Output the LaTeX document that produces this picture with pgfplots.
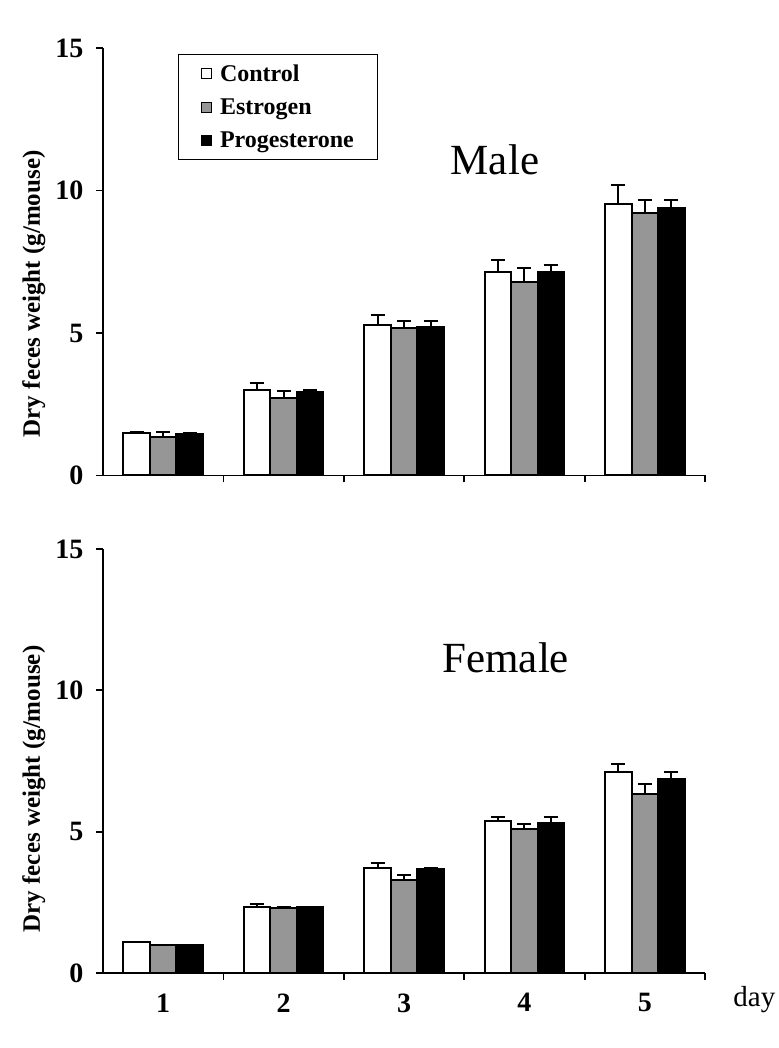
\documentclass[border=0pt]{standalone}
\usepackage{fontspec}
\setmainfont{Liberation Serif}
\usepackage{pgfplots}
\pgfplotsset{compat=1.18}
\definecolor{estro}{RGB}{150,150,150}
\pgfplotsset{
  common/.style={
    scale only axis, width=602pt,
    xmin=0.5, xmax=5.5, ymin=0, ymax=15,
    ybar=0pt, bar width=26.5pt,
    axis lines*=left, clip=false,
    axis line style={line width=1.8pt, black},
    ytick={0,5,10,15},
    xtick={1,2,3,4,5},
    minor xtick={1.5,2.5,3.5,4.5,5.5},
    major tick length=7pt, minor tick length=7pt,
    major x tick style={draw=none},
    minor x tick style={line width=1.8pt, black},
    major y tick style={line width=1.8pt, black, xshift=-7pt},
    /pgf/number format/assume math mode=true,
    tick label style={font=\bfseries\fontsize{28}{32}\selectfont},
    yticklabel style={xshift=-16pt},
    xticklabel style={yshift=-10pt},
  },
  mylegimg/.style={legend image code/.code={\draw[##1, line width=1.2pt] (0pt,-5pt) rectangle (10pt,5pt);}},
  errs/.style={error bars/.cd, y dir=plus, y explicit,
    error bar style={line width=2pt, black, solid},
    error mark options={rotate=90, line width=2pt, black, mark size=7pt}},
}
\begin{document}
\begin{tikzpicture}
\useasboundingbox (0,0) rectangle (778pt,1048pt);
% Male
\begin{axis}[common, at={(103pt,572.5pt)}, anchor=south west, height=427.5pt,
  xticklabels={},
  legend style={at={(0.125,0.986)}, anchor=north west, draw=black, line width=1.2pt,
    font=\bfseries\fontsize{24}{28}\selectfont, row sep=12pt, column sep=6pt,
    inner xsep=22pt, inner ysep=8pt, cells={anchor=west}},
]
\addplot[fill=white, draw=black, line width=2pt, mylegimg, errs] coordinates {(1,1.48) +- (0,0.06) (2,3.00) +- (0,0.23) (3,5.28) +- (0,0.34) (4,7.13) +- (0,0.43) (5,9.53) +- (0,0.66)};
\addplot[fill=estro, draw=black, line width=2pt, mylegimg, errs] coordinates {(1,1.36) +- (0,0.18) (2,2.71) +- (0,0.27) (3,5.17) +- (0,0.26) (4,6.80) +- (0,0.49) (5,9.20) +- (0,0.47)};
\addplot[fill=black, draw=black, line width=2pt, mylegimg, errs] coordinates {(1,1.47) +- (0,0.02) (2,2.92) +- (0,0.08) (3,5.22) +- (0,0.21) (4,7.15) +- (0,0.25) (5,9.38) +- (0,0.29)};
\legend{Control,Estrogen,Progesterone}
\node[font=\fontsize{43}{50}\selectfont] at (rel axis cs:0.651,0.738) {Male};
\node[rotate=90, font=\bfseries\fontsize{25}{30}\selectfont] at (rel axis cs:-0.115,0.425) {Dry feces weight (g/mouse)};
\end{axis}
% Female
\begin{axis}[common, at={(103pt,75pt)}, anchor=south west, height=424pt,
  xticklabels={1,2,3,4,5},
]
\addplot[fill=white, draw=black, line width=2pt, errs] coordinates {(1,1.11) +- (0,0.0) (2,2.32) +- (0,0.12) (3,3.70) +- (0,0.18) (4,5.39) +- (0,0.14) (5,7.10) +- (0,0.28)};
\addplot[fill=estro, draw=black, line width=2pt, errs] coordinates {(1,0.99) +- (0,0.0) (2,2.29) +- (0,0.03) (3,3.28) +- (0,0.18) (4,5.09) +- (0,0.19) (5,6.32) +- (0,0.37)};
\addplot[fill=black, draw=black, line width=2pt, errs] coordinates {(1,0.99) +- (0,0.0) (2,2.35) +- (0,0.0) (3,3.67) +- (0,0.05) (4,5.30) +- (0,0.23) (5,6.86) +- (0,0.24)};
\node[font=\fontsize{43}{50}\selectfont] at (rel axis cs:0.669,0.743) {Female};
\node[rotate=90, font=\bfseries\fontsize{25}{30}\selectfont] at (rel axis cs:-0.115,0.434) {Dry feces weight (g/mouse)};
\node[font=\fontsize{29}{34}\selectfont] at (rel axis cs:1.082,-0.062) {day};
\end{axis}
\end{tikzpicture}
\end{document}
